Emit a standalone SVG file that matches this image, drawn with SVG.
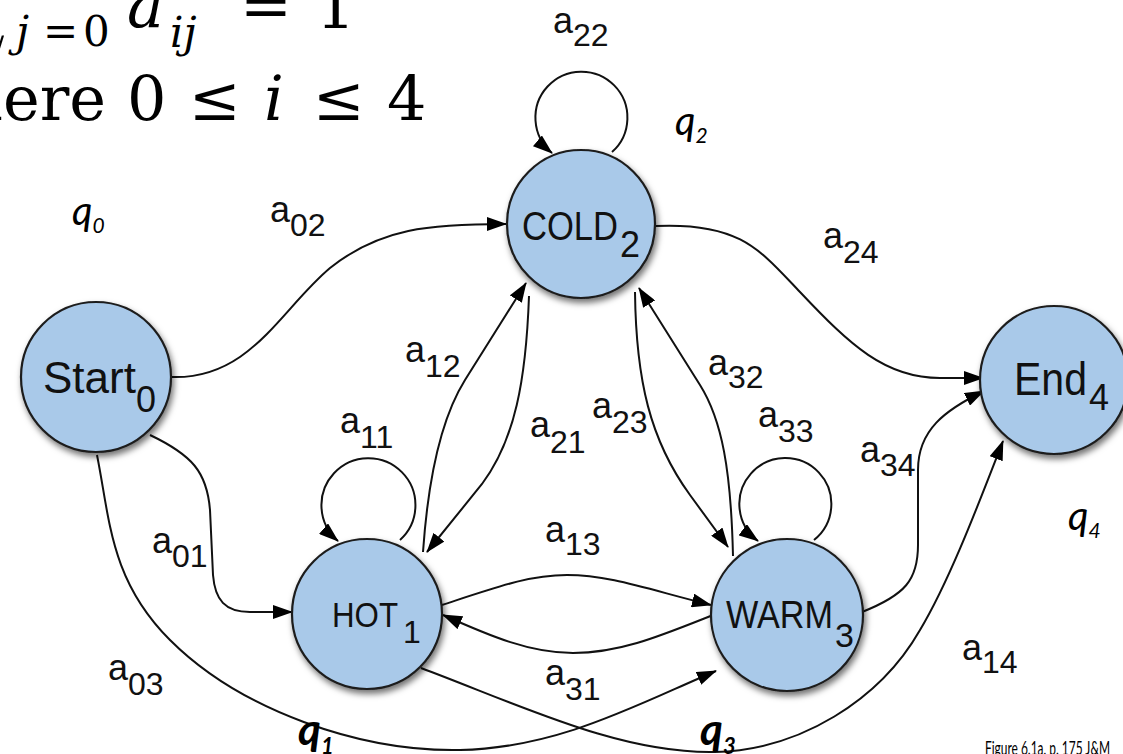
<svg xmlns="http://www.w3.org/2000/svg" width="1123" height="754" viewBox="0 0 1123 754">
<defs>
<style>
.node{fill:#a9c9e9;stroke:#1c1c1c;stroke-width:2.2;filter:url(#sh)}
.nt{font-family:"Liberation Sans",Arial,sans-serif;fill:#111}
.edge{fill:none;stroke:#111;stroke-width:2;marker-end:url(#arr)}
.lab{font-family:"Liberation Sans",Arial,sans-serif;font-size:36px;fill:#111}
.sub{font-size:32px}
.q{font-family:Lato,"Open Sans",sans-serif;font-style:italic;fill:#000}
.m{font-family:"DejaVu Serif","Liberation Serif",serif;fill:#000}
</style>
<filter id="sh" x="-20%" y="-20%" width="150%" height="150%">
<feDropShadow dx="2" dy="4" stdDeviation="3" flood-color="#000" flood-opacity="0.55"/>
</filter>
<marker id="arr" markerWidth="20" markerHeight="14" refX="19" refY="7" orient="auto" markerUnits="userSpaceOnUse">
<path d="M0,0 L20,7 L0,14 z" fill="#000"/>
</marker>
</defs>
<rect width="1123" height="754" fill="#fff"/>

<g id="formula" class="m">
<text x="-38" y="38" font-size="60">∑</text>
<text y="46" font-size="42"><tspan x="16" font-style="italic">j</tspan><tspan x="43">=</tspan><tspan x="83">0</tspan></text>
<text x="127" y="27" font-size="62" font-style="italic">a</text>
<text x="170" y="47" font-size="42" font-style="italic">ij</text>
<text x="240" y="27" font-size="62">=</text>
<text x="316" y="28" font-size="62">1</text>
<text x="3" y="120" font-size="62" text-anchor="end">wh</text>
<text x="3" y="120" font-size="62">ere</text>
<text x="127" y="120" font-size="62">0</text>
<text x="189" y="120" font-size="62">≤</text>
<text x="264" y="120" font-size="62" font-style="italic">i</text>
<text x="313" y="120" font-size="62">≤</text>
<text x="387" y="120" font-size="62">4</text>
</g>

<g id="connectors">
<path id="e02" class="edge" d="M171,377 C250,380 280,310 330,268 C380,228 430,224 506,224"/>
<path id="e24" class="edge" d="M655,226 C740,222 760,250 800,292 C850,345 885,378 940,378 L983,378"/>
<path id="e34" class="edge" d="M862,612 C905,595 918,580 918,545 L918,470 C918,430 945,410 984,391"/>
<path id="e14" class="edge" d="M421,668 C520,705 620,754 715,752 C800,750 880,700 920,630 C950,580 980,500 1003,441"/>
<path id="e03" class="edge" d="M97,455 C110,520 110,580 170,640 C240,710 360,752 460,750 C560,748 640,703 716,671"/>
<path id="e01" class="edge" d="M150,435 C192,455 207,472 210,510 L213,575 C215,600 225,612 250,612 L292,612"/>
<path id="e11" class="edge" d="M400,540 A47,47 0 1 0 338,541"/>
<path id="e22" class="edge" d="M612,152 A46,46 0 1 0 552,153"/>
<path id="e33" class="edge" d="M814,540 A46,46 0 1 0 758,541"/>
<path id="e12" class="edge" d="M423,552 C428,480 440,420 465,380 L526,283"/>
<path id="e21" class="edge" d="M529,296 C526,380 515,440 482,484 L427,552"/>
<path id="e23" class="edge" d="M635,292 C636,380 650,440 690,495 L728,547"/>
<path id="e32" class="edge" d="M733,556 C731,470 722,420 700,385 L639,288"/>
<path id="e13" class="edge" d="M442,605 C500,586 530,575 567,575 C610,575 650,590 711,605"/>
<path id="e31" class="edge" d="M713,615 C660,636 620,653 573,653 C530,653 490,636 443,615"/>
</g>

<g id="n-start">
<circle class="node" cx="96" cy="377" r="75"/>
<text class="nt" x="43" y="393" font-size="44">Start<tspan x="136" dy="19" font-size="36">0</tspan></text>
</g>
<g id="n-cold">
<circle class="node" cx="581" cy="224" r="74"/>
<text class="nt" y="240" font-size="40"><tspan x="522" textLength="96" lengthAdjust="spacingAndGlyphs">COLD</tspan><tspan x="620" dy="17" font-size="36">2</tspan></text>
</g>
<g id="n-hot">
<circle class="node" cx="367" cy="614" r="75"/>
<text class="nt" y="627" font-size="35"><tspan x="332" textLength="66" lengthAdjust="spacingAndGlyphs">HOT</tspan><tspan x="403" dy="16" font-size="32">1</tspan></text>
</g>
<g id="n-warm">
<circle class="node" cx="787" cy="615" r="76"/>
<text class="nt" y="628" font-size="39"><tspan x="726" textLength="107" lengthAdjust="spacingAndGlyphs">WARM</tspan><tspan x="835" dy="19" font-size="34">3</tspan></text>
</g>
<g id="n-end">
<circle class="node" cx="1054" cy="380" r="74"/>
<text class="nt" y="395" font-size="46"><tspan x="1014" textLength="73" lengthAdjust="spacingAndGlyphs">End</tspan><tspan x="1089" dy="15" font-size="36">4</tspan></text>
</g>

<g id="labels">
<text class="lab" x="553" y="33">a<tspan class="sub" dy="13">22</tspan></text>
<text class="lab" x="270" y="222">a<tspan class="sub" dy="14">02</tspan></text>
<text class="lab" x="823" y="248">a<tspan class="sub" dy="15">24</tspan></text>
<text class="lab" x="405" y="362">a<tspan class="sub" dy="15">12</tspan></text>
<text class="lab" x="340" y="433">a<tspan class="sub" dy="15">11</tspan></text>
<text class="lab" x="530" y="437">a<tspan class="sub" dy="16">21</tspan></text>
<text class="lab" x="592" y="418">a<tspan class="sub" dy="15">23</tspan></text>
<text class="lab" x="708" y="375">a<tspan class="sub" dy="13">32</tspan></text>
<text class="lab" x="758" y="427">a<tspan class="sub" dy="15">33</tspan></text>
<text class="lab" x="860" y="462">a<tspan class="sub" dy="14">34</tspan></text>
<text class="lab" x="152" y="553">a<tspan class="sub" dy="14">01</tspan></text>
<text class="lab" x="108" y="680">a<tspan class="sub" dy="15">03</tspan></text>
<text class="lab" x="545" y="542">a<tspan class="sub" dy="13">13</tspan></text>
<text class="lab" x="545" y="685">a<tspan class="sub" dy="15">31</tspan></text>
<text class="lab" x="962" y="660">a<tspan class="sub" dy="13">14</tspan></text>
</g>

<g id="qlabels" class="q">
<text x="72" y="225" font-size="40">q<tspan font-size="21" dy="8">0</tspan></text>
<text x="675" y="135" font-size="40">q<tspan font-size="21" dy="8">2</tspan></text>
<text x="1068" y="530" font-size="40">q<tspan font-size="21" dy="8">4</tspan></text>
<text x="298" y="745" font-size="44" font-weight="bold">q<tspan font-size="22" dy="9">1</tspan></text>
<text x="700" y="745" font-size="44" font-weight="bold">q<tspan font-size="22" dy="9">3</tspan></text>
<text x="985" y="755" font-size="19" font-style="normal" textLength="125" lengthAdjust="spacingAndGlyphs">Figure 6.1a, p. 175 J&amp;M</text>
</g>
</svg>
